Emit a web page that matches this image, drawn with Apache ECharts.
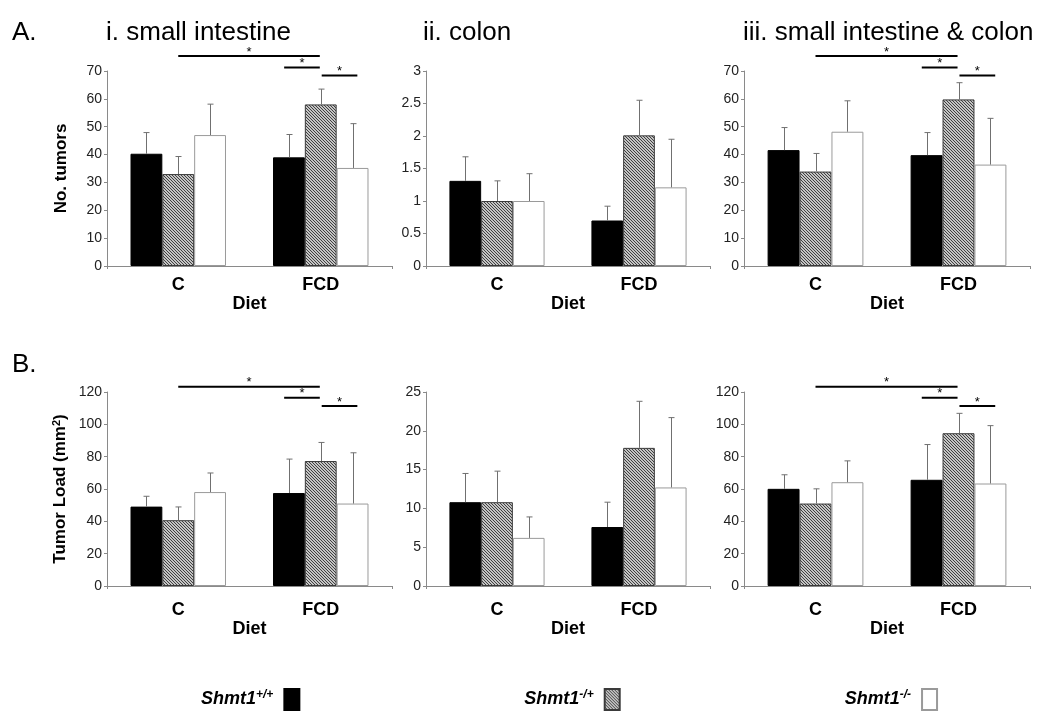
<!DOCTYPE html>
<html>
<head>
<meta charset="utf-8">
<script src="https://cdn.jsdelivr.net/npm/echarts@6/dist/echarts.min.js"></script>
<style>
html,body{margin:0;padding:0;background:#fff;}
#chart{width:1050px;height:724px;}
</style>
</head>
<body>
<div id="chart"></div>
<script>
// ---------- DATA ----------
const categories = ['C', 'FCD'];
const genotypes = ['Shmt1+/+', 'Shmt1-/+', 'Shmt1-/-'];
const genotypeSup = ['+/+', '-/+', '-/-'];
const panelTitles = ['i. small intestine', 'ii. colon', 'iii. small intestine & colon'];

// values indexed [genotype][diet]
const tumorsSmallMean = [[40.3, 39.0], [33.0, 58.0], [47.0, 35.2]];
const tumorsSmallErr  = [[7.6, 8.2], [6.3, 5.5], [11.1, 15.9]];
const tumorsColonMean = [[1.31, 0.70], [1.00, 2.01], [1.00, 1.21]];
const tumorsColonErr  = [[0.37, 0.22], [0.31, 0.54], [0.42, 0.74]];
const tumorsBothMean  = [[41.6, 39.8], [33.9, 59.8], [48.2, 36.4]];
const tumorsBothErr   = [[8.1, 8.1], [6.5, 6.0], [11.1, 16.6]];

const loadSmallMean = [[49.1, 57.5], [40.7, 77.3], [58.1, 51.0]];
const loadSmallErr  = [[6.4, 21.0], [8.2, 11.5], [11.8, 31.4]];
const loadColonMean = [[10.8, 7.6], [10.8, 17.8], [6.2, 12.7]];
const loadColonErr  = [[3.7, 3.2], [4.0, 6.0], [2.7, 9.0]];
const loadBothMean  = [[60.1, 65.7], [51.0, 94.5], [64.2, 63.4]];
const loadBothErr   = [[8.7, 21.8], [9.1, 12.3], [13.2, 35.8]];

// significance brackets: [fromDiet, fromOffset(bar widths), toDiet, toOffset, y value]
const sigTumors = [[0, 0, 1, -0.03, 75.4], [1, -1.15, 1, -0.03, 71.3], [1, 0.03, 1, 1.15, 68.4]];
const sigLoad   = [[0, 0, 1, -0.03, 123.3], [1, -1.15, 1, -0.03, 116.5], [1, 0.03, 1, 1.15, 111.3]];

// y axis scales
const yTumorsTicks = {min: 0, max: 70, interval: 10};
const yColonTicks  = {min: 0, max: 3, interval: 0.5};
const yLoadTicks   = {min: 0, max: 120, interval: 20};
const yLoadColTicks = {min: 0, max: 25, interval: 5};

// ---------- STYLE / LAYOUT ----------
const FONT = "'Liberation Sans', Arial, Helvetica, sans-serif";
const CAT_GAP = 0.33;

function makeHatch() {
  const c = document.createElement('canvas');
  c.width = 3; c.height = 3;
  const g = c.getContext('2d');
  g.fillStyle = '#c4c4c4'; g.fillRect(0, 0, 3, 3);
  g.fillStyle = '#404040';
  for (let y = 0; y < 3; y++) for (let x = 0; x < 3; x++) {
    if ((((x - y) % 3) + 3) % 3 === 0) g.fillRect(x, y, 1, 1);
  }
  return c;
}
const hatch = {image: makeHatch(), repeat: 'repeat'};

const barStyles = [
  {color: '#000000', borderColor: '#000000', borderWidth: 1},
  {color: hatch, borderColor: '#3a3a3a', borderWidth: 1},
  {color: '#ffffff', borderColor: '#9a9a9a', borderWidth: 1}
];

const panels = [
  {grid: {left: 107, top: 71, width: 285, height: 195}, ticks: yTumorsTicks, mean: tumorsSmallMean, err: tumorsSmallErr, sig: sigTumors, yName: 'No. tumors', row: 0},
  {grid: {left: 426, top: 71, width: 284, height: 195}, ticks: yColonTicks, mean: tumorsColonMean, err: tumorsColonErr, sig: null, yName: '', row: 0},
  {grid: {left: 744, top: 71, width: 286, height: 195}, ticks: yTumorsTicks, mean: tumorsBothMean, err: tumorsBothErr, sig: sigTumors, yName: '', row: 0},
  {grid: {left: 107, top: 392, width: 285, height: 194}, ticks: yLoadTicks, mean: loadSmallMean, err: loadSmallErr, sig: sigLoad, yName: 'Tumor Load (mm{sup|2})', row: 1},
  {grid: {left: 426, top: 392, width: 284, height: 194}, ticks: yLoadColTicks, mean: loadColonMean, err: loadColonErr, sig: null, yName: '', row: 1},
  {grid: {left: 744, top: 392, width: 286, height: 194}, ticks: yLoadTicks, mean: loadBothMean, err: loadBothErr, sig: sigLoad, yName: '', row: 1}
];

const grids = [], xAxes = [], yAxes = [], series = [];

panels.forEach((p, i) => {
  grids.push(Object.assign({containLabel: false}, p.grid));
  xAxes.push({
    type: 'category', gridIndex: i, data: categories,
    axisLine: {lineStyle: {color: '#8a8a8a', width: 1}},
    axisTick: {show: true, length: 3, lineStyle: {color: '#8a8a8a'}, interval: (idx) => idx !== 1},
    axisLabel: {color: '#000', fontFamily: FONT, fontWeight: 'bold', fontSize: 18, margin: p.row === 0 ? 10 : 15},
    name: 'Diet', nameLocation: 'middle', nameGap: p.row === 0 ? 27 : 31,
    nameTextStyle: {color: '#000', fontFamily: FONT, fontWeight: 'bold', fontSize: 18}
  });
  yAxes.push({
    type: 'value', gridIndex: i, min: p.ticks.min, max: p.ticks.max, interval: p.ticks.interval,
    axisLine: {show: true, lineStyle: {color: '#8a8a8a', width: 1}},
    axisTick: {show: true, length: 3, lineStyle: {color: '#8a8a8a'}},
    splitLine: {show: false},
    axisLabel: {color: '#222', fontFamily: FONT, fontSize: 14, margin: 5},
    name: p.yName, nameLocation: 'middle', nameGap: 37,
    nameTextStyle: {color: '#000', fontFamily: FONT, fontWeight: 'bold', fontSize: 17,
      rich: {sup: {fontFamily: FONT, fontWeight: 'bold', fontSize: 11, padding: [0, 0, 8, 0]}}}
  });
  genotypes.forEach((g, k) => {
    series.push({
      type: 'bar', name: g, xAxisIndex: i, yAxisIndex: i,
      data: p.mean[k], barGap: '0%', barCategoryGap: (CAT_GAP * 100) + '%',
      itemStyle: barStyles[k], z: 2, animation: false,
      emphasis: {disabled: true}
    });
  });
  // error bars
  const errData = [];
  genotypes.forEach((g, k) => {
    categories.forEach((c, d) => errData.push([d, p.mean[k][d], p.err[k][d], k]));
  });
  series.push({
    type: 'custom', xAxisIndex: i, yAxisIndex: i, data: errData, z: 3, animation: false, clip: false,
    encode: {x: 0, y: 1}, silent: true,
    renderItem: (params, api) => {
      const d = api.value(0), m = api.value(1), e = api.value(2), k = api.value(3);
      const base = api.coord([d, m]);
      const top = api.coord([d, m + e]);
      const bw = api.size([1, 0])[0] * (1 - CAT_GAP) / 3;
      const x = Math.round(base[0] + (k - 1) * bw) + 0.5;
      const st = {stroke: '#707070', lineWidth: 1};
      return {type: 'group', children: [
        {type: 'line', shape: {x1: x, y1: base[1], x2: x, y2: top[1]}, style: st},
        {type: 'line', shape: {x1: x - 3, y1: top[1], x2: x + 3, y2: top[1]}, style: st}
      ]};
    }
  });
  if (p.sig) {
    series.push({
      type: 'custom', xAxisIndex: i, yAxisIndex: i, data: p.sig, z: 4, animation: false, clip: false,
      encode: {x: 0, y: 4}, silent: true,
      renderItem: (params, api) => {
        const c1 = api.value(0), o1 = api.value(1), c2 = api.value(2), o2 = api.value(3), y = api.value(4);
        const bw = api.size([1, 0])[0] * (1 - CAT_GAP) / 3;
        const p1 = api.coord([c1, y]), p2 = api.coord([c2, y]);
        const x1 = p1[0] + o1 * bw, x2 = p2[0] + o2 * bw;
        return {type: 'group', children: [
          {type: 'line', shape: {x1: x1, y1: p1[1], x2: x2, y2: p1[1]}, style: {stroke: '#000', lineWidth: 2}},
          {type: 'text', x: (x1 + x2) / 2, y: p1[1] - 4,
            style: {text: '*', fill: '#000', font: '13px ' + FONT, textAlign: 'center', textVerticalAlign: 'middle'}}
        ]};
      }
    });
  }
});

const graphics = [
  {type: 'text', left: 12, top: 20, style: {text: 'A.', fill: '#000', font: '26px ' + FONT}},
  {type: 'text', left: 12, top: 352, style: {text: 'B.', fill: '#000', font: '26px ' + FONT}}
];
[106, 423, 743].forEach((x, i) => {
  graphics.push({type: 'text', left: x, top: 20, style: {text: panelTitles[i], fill: '#000', font: '26px ' + FONT}});
});

const chart = echarts.init(document.getElementById('chart'), null, {renderer: 'canvas'});
chart.setOption({
  animation: false,
  backgroundColor: '#fff',
  grid: grids, xAxis: xAxes, yAxis: yAxes, series: series,
  graphic: graphics,
  legend: {
    data: genotypes.map((g) => ({name: g, icon: 'rect'})),
    left: 196, top: 683, itemWidth: 15, itemHeight: 21, itemGap: 224, align: 'right',
    selectedMode: false,
    formatter: (name) => '{t|Shmt1}{s|' + genotypeSup[genotypes.indexOf(name)] + '}{g|}',
    textStyle: {
      rich: {
        t: {fontFamily: FONT, fontWeight: 'bold', fontStyle: 'italic', fontSize: 18, color: '#000'},
        s: {fontFamily: FONT, fontWeight: 'bold', fontStyle: 'italic', fontSize: 12, color: '#000', padding: [0, 0, 9, 0]},
        g: {width: 6}
      }
    }
  }
});
</script>
</body>
</html>
